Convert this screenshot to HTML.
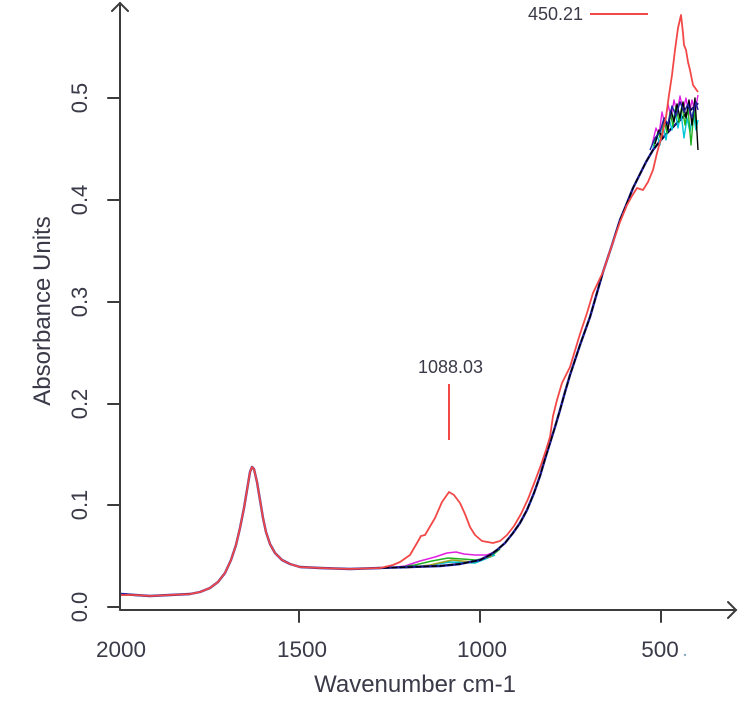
<!DOCTYPE html>
<html>
<head>
<meta charset="utf-8">
<style>
html,body{margin:0;padding:0;background:#fff;}
svg{display:block;}
text{font-family:"Liberation Sans",Arial,sans-serif;fill:#3a3a48;}
</style>
</head>
<body>
<svg width="739" height="726" viewBox="0 0 739 726" xmlns="http://www.w3.org/2000/svg">
<rect width="739" height="726" fill="#fff"/>

<!-- axes -->
<g stroke="#3c3c3c" stroke-width="2" fill="none" stroke-linecap="round">
  <line x1="120" y1="3" x2="120" y2="610"/>
  <polyline points="112,11 120,3 128,11"/>
  <line x1="120" y1="610" x2="736" y2="610"/>
  <polyline points="728,602 736,610 728,618"/>
  <line x1="108" y1="607" x2="120" y2="607"/>
  <line x1="108" y1="505" x2="120" y2="505"/>
  <line x1="108" y1="404" x2="120" y2="404"/>
  <line x1="108" y1="302" x2="120" y2="302"/>
  <line x1="108" y1="200" x2="120" y2="200"/>
  <line x1="108" y1="98" x2="120" y2="98"/>
  <line x1="299" y1="610" x2="299" y2="622"/>
  <line x1="480" y1="610" x2="480" y2="622"/>
  <line x1="661" y1="610" x2="661" y2="622"/>
</g>

<!-- y tick labels -->
<g font-size="22" text-anchor="middle">
  <text transform="translate(87,607) rotate(-90)">0.0</text>
  <text transform="translate(87,505) rotate(-90)">0.1</text>
  <text transform="translate(87,404) rotate(-90)">0.2</text>
  <text transform="translate(87,302) rotate(-90)">0.3</text>
  <text transform="translate(87,200) rotate(-90)">0.4</text>
  <text transform="translate(87,98) rotate(-90)">0.5</text>
</g>
<text font-size="24" text-anchor="middle" transform="translate(50,311) rotate(-90)">Absorbance Units</text>

<!-- x tick labels -->
<g font-size="22.5" text-anchor="middle">
  <text x="121" y="657">2000</text>
  <text x="302" y="657">1500</text>
  <text x="482" y="657">1000</text>
  <text x="660" y="657">500</text>
</g>
<circle cx="685" cy="655" r="1.2" fill="#8ab"/>
<text x="415" y="692" font-size="24" text-anchor="middle">Wavenumber cm-1</text>

<!-- annotations -->
<text x="418" y="373" font-size="18">1088.03</text>
<line x1="449" y1="384" x2="449" y2="440" stroke="#f24848" stroke-width="2"/>
<text x="528" y="20" font-size="18">450.21</text>
<line x1="590" y1="14" x2="648" y2="14" stroke="#f24848" stroke-width="2"/>

<!-- minor colored curves -->
<g fill="none" stroke-width="1.6" stroke-linejoin="round">
  <polyline stroke="#e020e0" points="388,568 405,566 420,561 435,557 447,553 456,552 464,554 475,555 487,555 497,551"/>
  <polyline stroke="#20b020" points="395,568 415,565 432,561 448,558 462,559 476,560 490,557 500,549"/>
  <polyline stroke="#00c0c0" points="400,568 425,566 450,562 475,563 495,555"/>
  <polyline stroke="#a0a020" points="405,568 430,565 452,560 472,562 492,556"/>
</g>

<!-- main curves -->
<g fill="none" stroke-linejoin="round">
  <polyline stroke="#2020a0" stroke-width="2.4" points="121,594 135,595 150,596 170,595 190,594 200,592 210,588 218,582 225,573 231,560 236,545 240,528 244,508 247,490 250,472 252,467 254,469 257,482 260,500 263,518 266,532 270,544 275,553 282,560 290,564 300,567 320,568 350,569 380,568 410,567 440,566 460,564 480,560 490,555 497,550 505,543 513,533 520,523 527,510 534,493 540,476 545,459 550,443 555,427 560,410 565,392 570,375 580,345 590,317 603,272 612,245 620,220 627,203 633,188 640,174 646,162 653,150 660,141 670,130 680,120 688,112 693,108 698,103"/>
  <polyline stroke="#000" stroke-width="1.4" stroke-dasharray="6 2" points="121,595 135,595 150,596 170,595 190,594 200,592 210,588 218,582 225,573 231,560 236,545 240,528 244,508 247,490 250,472 252,467 254,469 257,482 260,500 263,518 266,532 270,544 275,553 282,560 290,564 300,567 320,568 350,569 380,568 410,567 440,566 460,564 480,560 490,555 497,550 505,543 513,533 520,523 527,510 534,493 540,476 545,459 550,443 555,427 560,410 565,392 570,375 580,345 590,317 603,272 612,245 620,220 627,203 633,188 640,174 646,162 653,150 660,141 670,130 680,120 688,112 693,108 698,103"/>
</g>

<!-- noisy end cluster -->
<g fill="none" stroke-width="1.4" stroke-linejoin="round">
  <polyline stroke="#e020e0" points="652,145 656,128 659,135 662,112 665,125 668,104 671,118 674,100 677,113 680,96 683,110 686,98 689,115 692,100 695,112 698,95"/>
  <polyline stroke="#00c8d8" points="653,148 657,135 660,145 663,125 666,140 669,118 672,130 675,110 678,128 681,112 684,138 687,118 690,132 693,112 696,130 698,120"/>
  <polyline stroke="#20b020" points="654,146 658,132 661,140 664,120 667,133 670,112 673,126 676,106 679,122 682,105 685,125 688,108 691,145 694,110 697,128"/>
  <polyline stroke="#000" points="655,144 659,130 662,138 665,118 668,130 671,110 674,122 677,104 680,118 683,102 686,118 689,100 692,125 695,98 698,150"/>
  <polyline stroke="#2020a0" points="650,150 655,138 660,132 664,118 668,124 672,106 676,116 680,102 684,112 688,104 692,118 696,102 698,110"/>
</g>

<!-- red curve -->
<polyline fill="none" stroke="#f24848" stroke-width="1.8" stroke-linejoin="round" points="121,595 135,595 150,596 170,595 190,594 200,592 210,588 218,582 225,573 231,560 236,545 240,528 244,508 247,490 250,472 252,467 254,469 257,482 260,500 263,518 266,532 270,544 275,553 282,560 290,564 300,567 320,568 350,569 380,568 393,565 400,562 410,555 417,543 421,536 425,535 435,518 442,502 449,492 454,495 460,503 465,514 470,527 475,535 482,541 493,543 500,541 507,535 514,526 521,514 528,499 535,481 541,465 546,450 550,437 553,416 557,400 562,383 570,367 580,334 587,313 593,293 603,272 612,245 620,222 627,205 632,196 637,188 643,190 648,182 653,170 657,153 662,135 666,117 669,95 672,75 675,50 678,28 681,15 683,33 684,45 686,50 688,62 690,70 693,85 698,92"/>
</svg>
</body>
</html>
